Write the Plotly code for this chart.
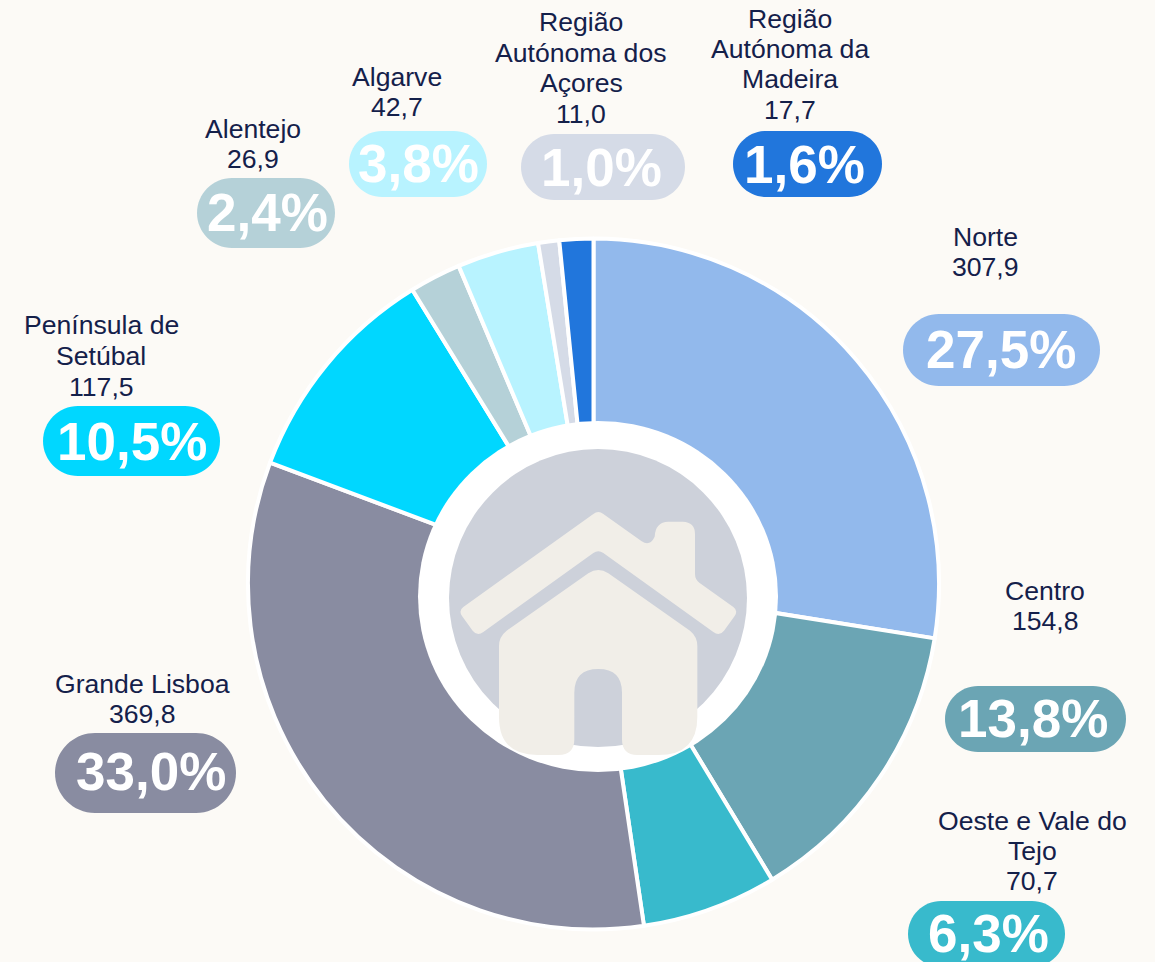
import plotly.graph_objects as go

W, H = 1155, 962
regions = ["Norte", "Centro", "Oeste e Vale do Tejo", "Grande Lisboa", "Península de Setúbal",
           "Alentejo", "Algarve", "Região Autónoma dos Açores", "Região Autónoma da Madeira"]
values = [307.9, 154.8, 70.7, 369.8, 117.5, 26.9, 42.7, 11.0, 17.7]
value_labels = ["307,9", "154,8", "70,7", "369,8", "117,5", "26,9", "42,7", "11,0", "17,7"]
percents = ["27,5%", "13,8%", "6,3%", "33,0%", "10,5%", "2,4%", "3,8%", "1,0%", "1,6%"]
colors = ["#92B9EC", "#6BA5B4", "#38BACC", "#898CA1", "#00D7FF", "#B5D1D8", "#B8F3FF", "#D5DBE7", "#2176DC"]
label_lines = [["Norte"], ["Centro"], ["Oeste e Vale do", "Tejo"], ["Grande Lisboa"],
               ["Península de", "Setúbal"], ["Alentejo"], ["Algarve"],
               ["Região", "Autónoma dos", "Açores"], ["Região", "Autónoma da", "Madeira"]]
label_x = [985, 1045, 1032, 142, 101, 253, 397, 581, 790]
label_y = [[237, 267], [591, 621], [821, 851, 881], [684, 714], [325, 356, 387],
           [129, 159], [77, 107], [22, 53, 83, 114], [19, 49, 79, 110]]
pills = [(903, 314, 1100, 386), (945, 686, 1126, 752), (908, 901, 1065, 967), (55, 733, 236, 813),
         (43, 406, 220, 476), (197, 178, 335, 248), (349, 131, 487, 197), (521, 134, 685, 200), (733, 131, 882, 197)]
percent_x = [1000.5, 1033, 988, 151, 131.5, 267.5, 418.5, 601, 804]
percent_y = [349, 718, 933, 771, 441, 213, 163, 167, 164]

BG, TEXT, GREY, CREAM = "#FCFAF6", "#14204A", "#CDD1DA", "#F1EEE8"
FONT = "Liberation Sans, Arial, sans-serif"


def X(p):
    return p / W


def Y(p):
    return 1 - p / H


def pill_path(x0, y0, x1, y1):
    r = (y1 - y0) / 2
    k = 0.448 * r
    P = lambda x, y: f"{X(x):.5f},{Y(y):.5f}"
    return (f"M{P(x0 + r, y0)} L{P(x1 - r, y0)} C{P(x1 - k, y0)} {P(x1, y0 + k)} {P(x1, y0 + r)} "
            f"C{P(x1, y1 - k)} {P(x1 - k, y1)} {P(x1 - r, y1)} L{P(x0 + r, y1)} "
            f"C{P(x0 + k, y1)} {P(x0, y1 - k)} {P(x0, y0 + r)} C{P(x0, y0 + k)} {P(x0 + k, y0)} {P(x0 + r, y0)} Z")


def icon_path(cmds):
    # icon outline traced on a 3x crop whose origin is (420, 420)
    out = []
    for c in cmds:
        pts = " ".join(f"{X(420 + c[i] / 3):.5f},{Y(420 + c[i + 1] / 3):.5f}" for i in range(1, len(c), 2))
        out.append(c[0] + pts)
    return " ".join(out) + " Z"


roof = [("M", 520, 282), ("Q", 535, 270, 550, 282), ("L", 665, 364), ("Q", 690, 380, 704, 350),
        ("Q", 706, 306, 745, 305), ("L", 788, 305), ("Q", 825, 306, 825, 342), ("L", 825, 462),
        ("Q", 825, 478, 838, 488), ("L", 940, 561), ("Q", 955, 572, 944, 588), ("L", 912, 632),
        ("Q", 898, 650, 880, 636), ("L", 550, 399), ("Q", 535, 388, 520, 399), ("L", 190, 636),
        ("Q", 172, 650, 158, 632), ("L", 126, 588), ("Q", 115, 572, 130, 561)]
body = [("M", 505, 460), ("Q", 535, 440, 565, 460), ("L", 810, 632), ("Q", 832, 650, 832, 678),
        ("L", 832, 890), ("Q", 832, 1005, 715, 1005), ("L", 652, 1005), ("Q", 606, 1005, 606, 958),
        ("L", 606, 818), ("Q", 606, 747, 535, 747), ("Q", 463, 747, 463, 818), ("L", 463, 958),
        ("Q", 463, 1005, 415, 1005), ("L", 352, 1005), ("Q", 237, 1005, 237, 890), ("L", 237, 678),
        ("Q", 237, 650, 260, 632)]

fig = go.Figure(go.Pie(
    labels=regions, values=values, sort=False, direction="clockwise", rotation=0,
    marker=dict(colors=colors, line=dict(color="white", width=4)),
    textinfo="none", hoverinfo="label+value", showlegend=False,
    domain=dict(x=[X(248), X(939)], y=[Y(929.5), Y(238.5)]),
))

shapes = []
for (x0, y0, x1, y1), c in zip(pills, colors):
    shapes.append(dict(type="path", xref="paper", yref="paper", path=pill_path(x0, y0, x1, y1),
                       fillcolor=c, line_width=0, layer="above"))
shapes.append(dict(type="circle", xref="paper", yref="paper", x0=X(418), x1=X(778), y0=Y(772), y1=Y(421),
                   fillcolor="white", line_width=0, layer="above"))
shapes.append(dict(type="circle", xref="paper", yref="paper", x0=X(449), x1=X(747), y0=Y(747), y1=Y(449),
                   fillcolor=GREY, line_width=0, layer="above"))
for part in (roof, body):
    shapes.append(dict(type="path", xref="paper", yref="paper", path=icon_path(part),
                       fillcolor=CREAM, line_width=0, layer="above"))

annotations = []
for i in range(len(regions)):
    lines = label_lines[i] + [value_labels[i]]
    for text, y in zip(lines, label_y[i]):
        annotations.append(dict(x=X(label_x[i]), y=Y(y), xref="paper", yref="paper", text=text, showarrow=False,
                                xanchor="center", yanchor="middle", font=dict(family=FONT, size=26.6, color=TEXT)))
    annotations.append(dict(x=X(percent_x[i]), y=Y(percent_y[i]), xref="paper", yref="paper", text=percents[i],
                            showarrow=False, xanchor="center", yanchor="middle",
                            font=dict(family=FONT, size=53, color="white", weight="bold")))

fig.update_layout(width=W, height=H, margin=dict(l=0, r=0, t=0, b=0), paper_bgcolor=BG, plot_bgcolor=BG,
                  shapes=shapes, annotations=annotations)
fig.write_html("out.html", config={"displayModeBar": False},
               post_script="document.body.style.margin='0';document.body.style.overflow='hidden';document.body.style.background='#FCFAF6';")
